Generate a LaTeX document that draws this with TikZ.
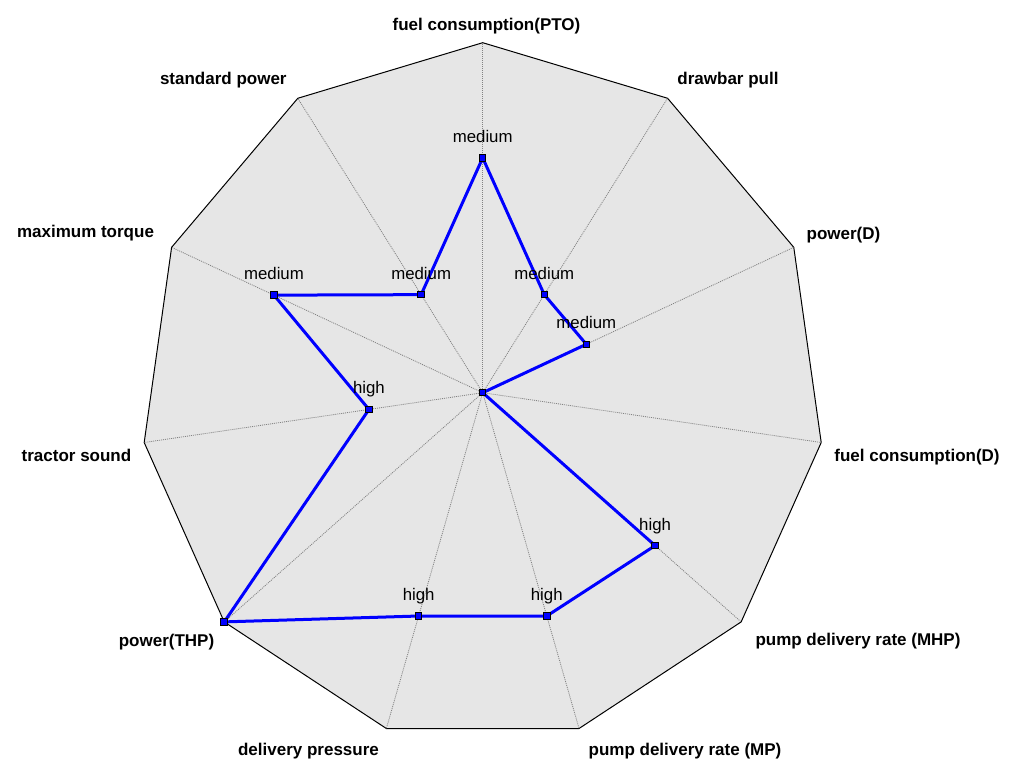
\documentclass[tikz,border=0pt]{standalone}
\usepackage{fontspec}
\setmainfont{Liberation Sans}
\usetikzlibrary{calc}
\begin{document}
\begin{tikzpicture}[x=1pt,y=-1pt,
  axislabel/.style={font=\fontsize{17}{20}\selectfont\bfseries, inner sep=0pt, anchor=base},
  vallabel/.style={font=\fontsize{16.8}{20}\selectfont, inner sep=0pt, anchor=base},
  grid/.style={draw=black, line width=1pt, fill={rgb,255:red,230;green,230;blue,230}, line join=miter},
  spoke/.style={draw={rgb,255:red,130;green,130;blue,130}, line width=0.8pt, dash pattern=on 1pt off 1pt},
  dataline/.style={draw={rgb,255:red,0;green,0;blue,255}, line width=3pt, line join=miter},
  marker/.style={rectangle, draw=black, line width=1pt, fill={rgb,255:red,0;green,0;blue,255}, minimum size=6.5pt, inner sep=0pt}
]
\useasboundingbox (0,0) rectangle (1017,775);
\coordinate (c) at (482.7,392.7);
% polygon vertices
\foreach \k in {0,...,10}{
  \coordinate (v\k) at ({482.7+342*cos(90-360/11*\k)},{392.7-350*sin(90-360/11*\k)});
}
% data points (fraction of radius)
\foreach \k/\r in {0/0.671,1/0.333,2/0.333,3/0,4/0.667,5/0.665,6/0.665,7/1,8/0.336,9/0.671,10/0.333}{
  \coordinate (d\k) at ({482.7+\r*342*cos(90-360/11*\k)},{392.7-\r*350*sin(90-360/11*\k)});
}
\path[grid] (v0)--(v1)--(v2)--(v3)--(v4)--(v5)--(v6)--(v7)--(v8)--(v9)--(v10)--cycle;
\foreach \k in {0,...,10}{ \draw[spoke] (c) -- (v\k); }
\draw[dataline] (d0)--(d1)--(d2)--(d3)--(d4)--(d5)--(d6)--(d7)--(d8)--(d9)--(d10)--cycle;
\foreach \k in {0,...,10}{ \node[marker] (m\k) at (d\k) {}; }
% value labels
\foreach \k/\t in {0/medium,1/medium,2/medium,4/high,5/high,6/high,8/high,9/medium,10/medium}{
  \node[vallabel] (t\k) at ($(d\k)+(0,-15.5)$) {\t};
}
% axis labels
\node[axislabel] (l0) at (486.5,30.5) {fuel consumption(PTO)};
\node[axislabel] (l1) at (728,85) {drawbar pull};
\node[axislabel] (l2) at (843.5,240) {power(D)};
\node[axislabel] (l3) at (917,461.7) {fuel consumption(D)};
\node[axislabel] (l4) at (858,645.7) {pump delivery rate (MHP)};
\node[axislabel] (l5) at (685,755) {pump delivery rate (MP)};
\node[axislabel] (l6) at (308.5,755) {delivery pressure};
\node[axislabel] (l7) at (166.5,646.7) {power(THP)};
\node[axislabel] (l8) at (76.5,461.7) {tractor sound};
\node[axislabel] (l9) at (85.5,237.7) {maximum torque};
\node[axislabel] (l10) at (223.3,85) {standard power};
\end{tikzpicture}
\end{document}
